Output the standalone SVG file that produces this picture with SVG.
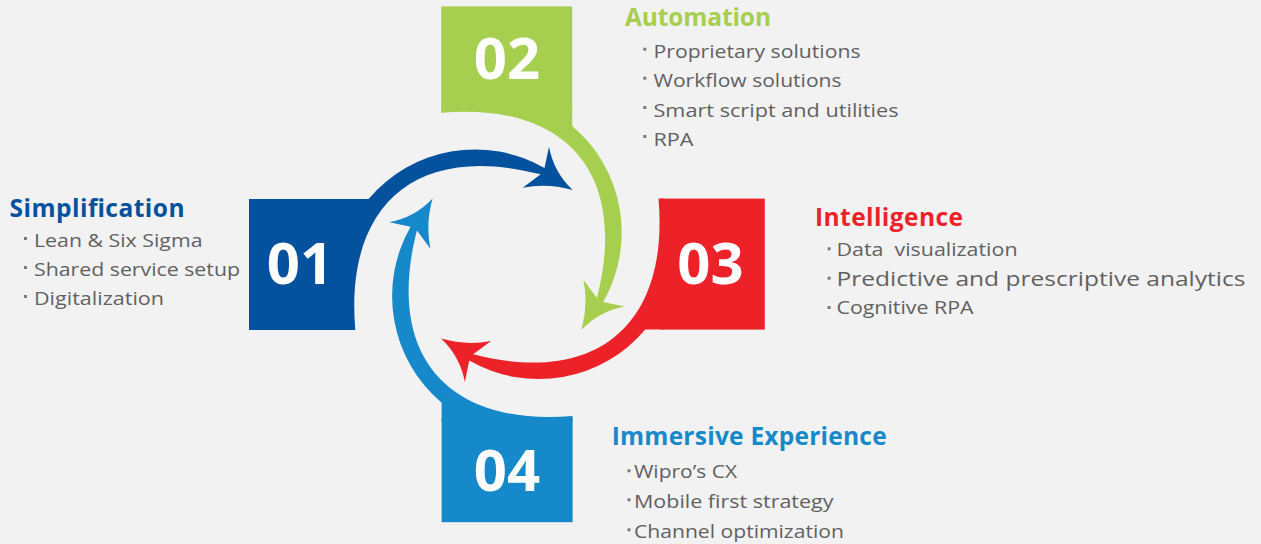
<svg xmlns="http://www.w3.org/2000/svg" width="1261" height="544" viewBox="0 0 1261 544">
<style>
.h{font-family:"Open Sans","Liberation Sans",sans-serif;font-weight:700;font-size:24.5px}
.t{font-family:"Open Sans","Liberation Sans",sans-serif;font-size:19px;fill:#616161;white-space:pre}
.n{font-family:"Open Sans","Liberation Sans",sans-serif;font-weight:700;font-size:58px;fill:#ffffff;text-anchor:middle}
.b{fill:#7a7a7a}
.blue{fill:#04519D}
.green{fill:#A7CF4F}
.red{fill:#EC2228}
.lblue{fill:#1589C9}
</style>
<defs>
<path id="arrow" d="M -138.4 -65.3 A 139.5 139.5 0 0 1 37.6 -96.3 L 42.1 -117.6 Q 46.9 -92.1 65.8 -74.3 Q 40.8 -81.5 15.8 -76.6 L 33.8 -90 C -91.9 -122.3 -162.3 -58.3 -151.6 65.7 L -157 65.7 L -157 -65.3 Z"/>
</defs>
<rect x="0" y="0" width="1261" height="544" fill="#F2F2F2"/>

<g id="connectors">
<use href="#arrow" class="blue" transform="translate(506.9 264.3)"/>
<use href="#arrow" class="green" transform="translate(506.9 264.3) rotate(90)"/>
<use href="#arrow" class="red" transform="translate(506.9 264.3) rotate(180)"/>
<use href="#arrow" class="lblue" transform="translate(506.9 264.3) rotate(270)"/>
</g>

<g id="node-01">
<rect class="blue" x="249" y="199" width="104" height="131"/>
<text class="n" x="300" y="284.4">01</text>
<text class="h blue" x="9.5" y="217.3" textLength="175">Simplification</text>
<rect class="b" x="24" y="237" width="3" height="3"/>
<rect class="b" x="24" y="266" width="3" height="3"/>
<rect class="b" x="24" y="295" width="3" height="3"/>
<text class="t" x="34" y="247.3" textLength="168.5" lengthAdjust="spacingAndGlyphs">Lean &amp; Six Sigma</text>
<text class="t" x="34" y="276" textLength="206" lengthAdjust="spacingAndGlyphs">Shared service setup</text>
<text class="t" x="34" y="305" textLength="130" lengthAdjust="spacingAndGlyphs">Digitalization</text>
</g>

<g id="node-02">
<rect class="green" x="441.2" y="6.4" width="131" height="104"/>
<text class="n" x="507" y="79.4">02</text>
<text class="h green" x="625" y="26" textLength="146">Automation</text>
<rect class="b" x="643.3" y="47.7" width="3" height="3"/>
<rect class="b" x="643.3" y="76.7" width="3" height="3"/>
<rect class="b" x="643.3" y="106" width="3" height="3"/>
<rect class="b" x="643.3" y="135" width="3" height="3"/>
<text class="t" x="653.5" y="58.3" textLength="207" lengthAdjust="spacingAndGlyphs">Proprietary solutions</text>
<text class="t" x="653.5" y="87.3" textLength="188" lengthAdjust="spacingAndGlyphs">Workflow solutions</text>
<text class="t" x="653.5" y="116.7" textLength="245" lengthAdjust="spacingAndGlyphs">Smart script and utilities</text>
<text class="t" x="653.5" y="145.7" textLength="40" lengthAdjust="spacingAndGlyphs">RPA</text>
</g>

<g id="node-03">
<rect class="red" x="660.8" y="198.6" width="104" height="131"/>
<text class="n" x="710.5" y="284.4">03</text>
<text class="h red" x="815" y="225.7" textLength="148">Intelligence</text>
<rect class="b" x="827.6" y="247.3" width="3" height="3"/>
<rect class="b" x="827.6" y="276.7" width="3" height="3"/>
<rect class="b" x="827.6" y="306" width="3" height="3"/>
<text class="t" x="836.5" y="256" textLength="181" lengthAdjust="spacingAndGlyphs" xml:space="preserve">Data  visualization</text>
<text class="t" x="836.5" y="285.7" textLength="409" lengthAdjust="spacingAndGlyphs" style="font-size:20.5px">Predictive and prescriptive analytics</text>
<text class="t" x="836.5" y="314.3" textLength="137" lengthAdjust="spacingAndGlyphs">Cognitive RPA</text>
</g>

<g id="node-04">
<rect class="lblue" x="441.6" y="418.2" width="131" height="104"/>
<text class="n" x="507" y="491">04</text>
<text class="h lblue" x="611.7" y="445" textLength="275">Immersive Experience</text>
<rect class="b" x="627.5" y="469.3" width="3" height="3"/>
<rect class="b" x="627.5" y="498.3" width="3" height="3"/>
<rect class="b" x="627.5" y="528.3" width="3" height="3"/>
<text class="t" x="634" y="478.3" textLength="103" lengthAdjust="spacingAndGlyphs">Wipro’s CX</text>
<text class="t" x="634" y="508.3" textLength="199.5" lengthAdjust="spacingAndGlyphs">Mobile first strategy</text>
<text class="t" x="634" y="537.7" textLength="210" lengthAdjust="spacingAndGlyphs">Channel optimization</text>
</g>
</svg>
